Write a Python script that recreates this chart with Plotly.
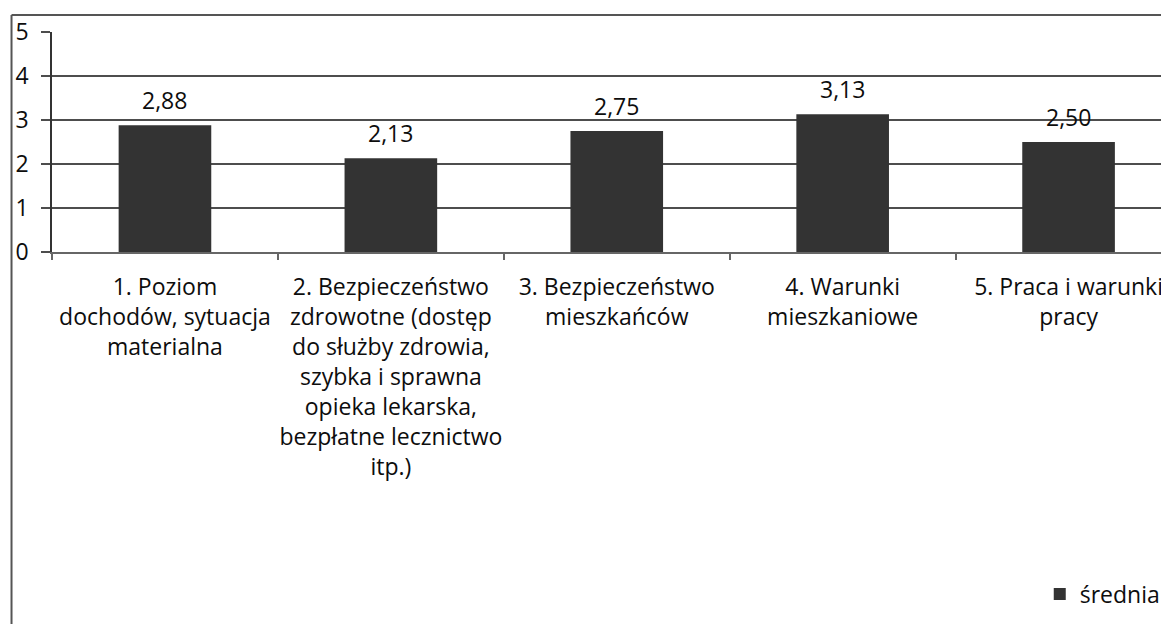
import plotly.graph_objects as go

categories = [
    "1. Poziom<br>dochodów, sytuacja<br>materialna",
    "2. Bezpieczeństwo<br>zdrowotne (dostęp<br>do służby zdrowia,<br>szybka i sprawna<br>opieka lekarska,<br>bezpłatne lecznictwo<br>itp.)",
    "3. Bezpieczeństwo<br>mieszkańców",
    "4. Warunki<br>mieszkaniowe",
    "5. Praca i warunki<br>pracy",
]
srednia = [2.88, 2.13, 2.75, 3.13, 2.50]
series_name = "średnia"
y_ticks = [0, 1, 2, 3, 4, 5]

FONT = "Open Sans"
FS = 23
TXT = "#0d0d0d"
GRID = "#4d4d4d"

# page has an 8px body margin, positions are compensated
L, T, B = 43.5, 24, 380
W, H = 1169, 624
PW, PH = W - L, H - T - B

fig = go.Figure()
fig.add_trace(go.Bar(
    x=categories,
    y=srednia,
    name=series_name,
    marker=dict(color="#333333", line=dict(width=0)),
    width=0.41,
    cliponaxis=False,
    showlegend=True,
))

annotations = [
    dict(x=c, y=v, xref="x", yref="y", text=f"{v:.2f}".replace(".", ","),
         showarrow=False, yanchor="middle", yshift=25,
         font=dict(family=FONT, size=FS, color=TXT))
    for c, v in zip(categories, srednia)
]

fx = (3 - L) / PW
fy = (PH + T - 7) / PH

fig.update_layout(
    width=W,
    height=H,
    margin=dict(l=L, r=0, t=T, b=B, autoexpand=False),
    paper_bgcolor="white",
    plot_bgcolor="white",
    font=dict(family=FONT, size=FS, color=TXT),
    showlegend=True,
    legend=dict(
        orientation="h",
        x=0.878, xanchor="left",
        y=-1.555, yanchor="middle",
        font=dict(family=FONT, size=FS, color=TXT),
        itemwidth=30,
        bgcolor="rgba(0,0,0,0)",
    ),
    annotations=annotations,
    shapes=[
        dict(type="line", xref="paper", yref="paper",
             x0=fx, x1=1.05, y0=fy, y1=fy,
             line=dict(color="#555555", width=2)),
        dict(type="line", xref="paper", yref="paper",
             x0=fx, x1=fx, y0=fy, y1=-2.0,
             line=dict(color="#555555", width=2)),
    ],
)

fig.update_xaxes(
    type="category",
    range=[-0.5, 4.48],
    showline=True, linecolor="#666666", linewidth=1.5,
    ticks="outside", tickson="boundaries", ticklen=6, tickcolor="#666666", tickwidth=1.5,
    ticklabelstandoff=14,
    showgrid=False,
    tickfont=dict(family=FONT, size=FS, color=TXT),
    tickangle=0,
    automargin=False,
)
fig.update_yaxes(
    range=[0, 5],
    tickvals=y_ticks,
    ticktext=[str(v) for v in y_ticks],
    showgrid=True, gridcolor=GRID, gridwidth=1.5,
    showline=True, linecolor="#333333", linewidth=1.5,
    ticks="outside", ticklen=9, tickcolor=GRID, tickwidth=1.5,
    ticklabelstandoff=8,
    tickfont=dict(family=FONT, size=FS, color=TXT),
    zeroline=False,
    automargin=False,
)

fig.write_html("out.html")
